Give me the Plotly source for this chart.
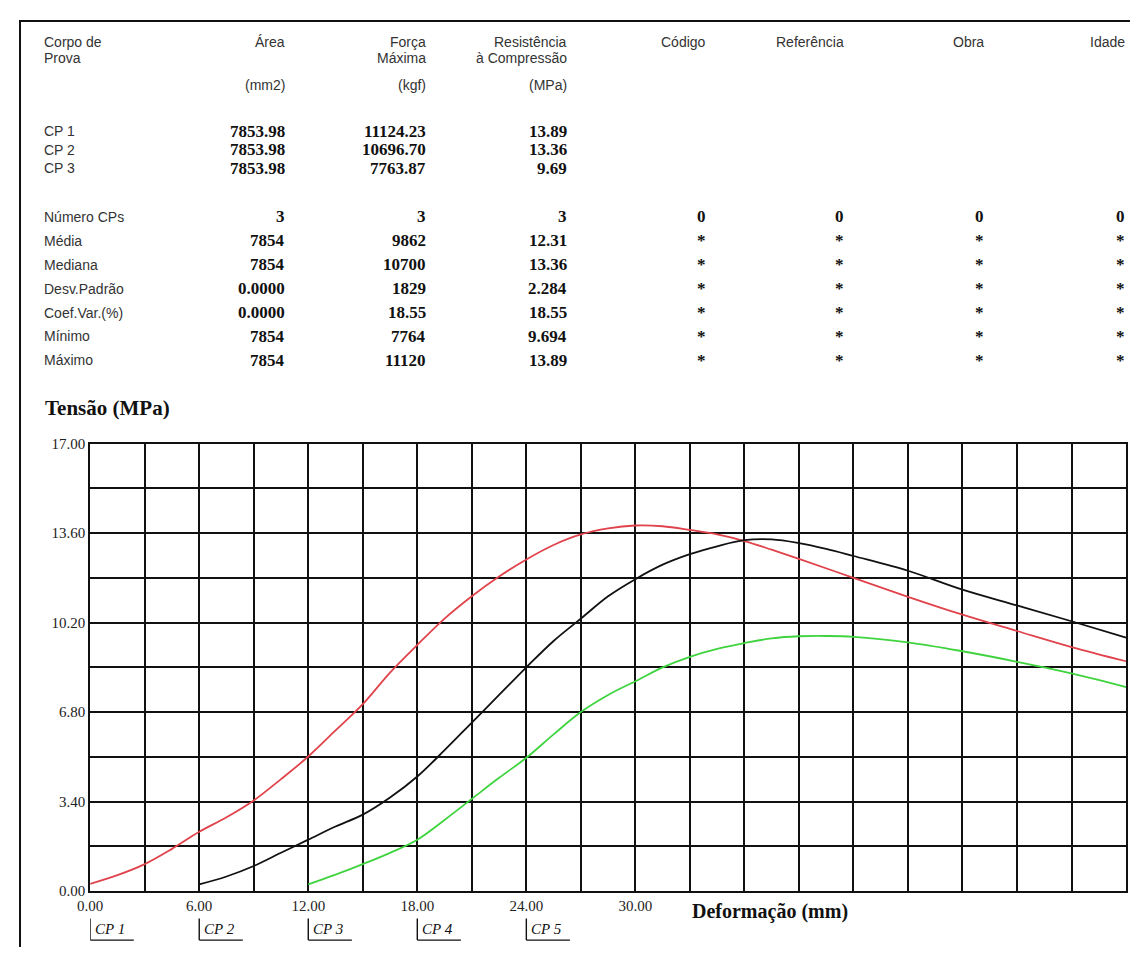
import plotly.graph_objects as go

# page is shown with an 8px body margin, so the figure is drawn 16px smaller
W, H = 1122, 947
OFF = 8

# ---------------- data ----------------
cp_names = ["CP 1", "CP 2", "CP 3"]
area_mm2 = ["7853.98", "7853.98", "7853.98"]
forca_kgf = ["11124.23", "10696.70", "7763.87"]
resist_mpa = ["13.89", "13.36", "9.69"]

stat_names = ["Número CPs", "Média", "Mediana", "Desv.Padrão", "Coef.Var.(%)", "Mínimo", "Máximo"]
stat_area = ["3", "7854", "7854", "0.0000", "0.0000", "7854", "7854"]
stat_forca = ["3", "9862", "10700", "1829", "18.55", "7764", "11120"]
stat_resist = ["3", "12.31", "13.36", "2.284", "18.55", "9.694", "13.89"]
stat_codigo = ["0", "*", "*", "*", "*", "*", "*"]
stat_referencia = ["0", "*", "*", "*", "*", "*", "*"]
stat_obra = ["0", "*", "*", "*", "*", "*", "*"]
stat_idade = ["0", "*", "*", "*", "*", "*", "*"]

# stress-deformation curves (x = deformation on chart axis, mm ; y = MPa)
cp1_x = [0, 1.5, 3, 4.5, 6, 7.5, 9, 10.5, 12, 13.5, 15, 16.5, 18, 19.5, 21, 22.5, 24, 25.5, 27,
         28.5, 30, 31.5, 33, 34.5, 36, 37.5, 39, 42, 45, 48, 51, 54, 57]
cp1_y = [0.27, 0.6, 1.02, 1.6, 2.25, 2.8, 3.44, 4.25, 5.11, 6.1, 7.1, 8.3, 9.35, 10.35, 11.2, 11.95, 12.6, 13.15, 13.55,
         13.78, 13.89, 13.86, 13.72, 13.55, 13.3, 12.97, 12.62, 11.9, 11.18, 10.5, 9.88, 9.27, 8.73]

cp2_x = [6, 7.5, 9, 10.5, 12, 13.5, 15, 16.5, 18, 19.5, 21, 22.5, 24, 25.5, 27, 28.5, 30, 31.5, 33,
         34.5, 36, 37.5, 39, 40.5, 42, 45, 48, 51, 54, 57]
cp2_y = [0.25, 0.55, 0.95, 1.45, 1.95, 2.45, 2.9, 3.55, 4.35, 5.35, 6.4, 7.45, 8.5, 9.5, 10.35, 11.2, 11.85, 12.4, 12.8,
         13.1, 13.33, 13.36, 13.22, 13.0, 12.73, 12.17, 11.45, 10.85, 10.25, 9.63]

cp3_x = [12, 13.5, 15, 16.5, 18, 19.5, 21, 22.5, 24, 25.5, 27, 28.5, 30, 31.5, 33, 34.5, 36, 37.5,
         39, 40.5, 42, 45, 48, 51, 54, 57]
cp3_y = [0.25, 0.62, 1.02, 1.45, 1.95, 2.7, 3.5, 4.3, 5.06, 5.95, 6.8, 7.45, 7.97, 8.5, 8.9, 9.2, 9.42, 9.6,
         9.68, 9.69, 9.66, 9.45, 9.11, 8.71, 8.27, 7.75]

x_ticks = [0, 6, 12, 18, 24, 30]
y_ticks = [0, 3.4, 6.8, 10.2, 13.6, 17.0]
cp_offsets = [0, 6, 12, 18, 24]
cp_offset_labels = ["CP 1", "CP 2", "CP 3", "CP 4", "CP 5"]

# ---------------- layout helpers (page pixel -> paper) ----------------
def px(x):
    return (x - OFF) / W

def py(y):
    return 1 - (y - OFF) / H

PLOT_L, PLOT_R, PLOT_T, PLOT_B = 78, 1126, 443, 898

SANS = "Liberation Sans, Arial, sans-serif"
SERIF = "Liberation Serif, Times New Roman, serif"

fig = go.Figure()

series = [
    (cp1_x, cp1_y, "#e0434b", "CP 1"),
    (cp2_x, cp2_y, "#111111", "CP 2"),
    (cp3_x, cp3_y, "#3fd43f", "CP 3"),
]
for xs, ys, col, name in series:
    fig.add_trace(go.Scatter(x=xs, y=ys, mode="lines", name=name,
                             line=dict(color=col, width=1.8, shape="spline", smoothing=1.0),
                             hoverinfo="x+y"))

annotations = []

def txt(x, y, s, anchor="left", font=SANS, size=14, color="#333", bold=False, italic=False):
    t = s
    if bold:
        t = "<b>" + t + "</b>"
    if italic:
        t = "<i>" + t + "</i>"
    annotations.append(dict(x=px(x), y=py(y), xref="paper", yref="paper", text=t,
                            showarrow=False, xanchor=anchor, yanchor="middle",
                            font=dict(family=font, size=size, color=color)))

# header
COL_LABEL = 29
COL_AREA, COL_FORCA, COL_RES = 277, 420, 562
COL_COD, COL_REF, COL_OBRA, COL_IDADE = 703, 843, 984, 1127

txt(COL_LABEL, 34, "Corpo de")
txt(COL_LABEL, 51, "Prova")
txt(COL_AREA, 34, "Área", "right")
txt(COL_AREA, 78, "(mm2)", "right")
txt(COL_FORCA, 34, "Força", "right")
txt(COL_FORCA, 51, "Máxima", "right")
txt(COL_FORCA, 78, "(kgf)", "right")
txt(COL_RES, 34, "Resistência", "right")
txt(COL_RES, 51, "à Compressão", "right")
txt(COL_RES, 78, "(MPa)", "right")
txt(COL_COD, 34, "Código", "right")
txt(COL_REF, 34, "Referência", "right")
txt(COL_OBRA, 34, "Obra", "right")
txt(COL_IDADE, 34, "Idade", "right")

VAL = dict(font=SERIF, size=17, color="#111", bold=True)
cp_rows_y = [125, 144, 163]
for i, yy in enumerate(cp_rows_y):
    txt(COL_LABEL, yy, cp_names[i])
    txt(COL_AREA, yy, area_mm2[i], "right", **VAL)
    txt(COL_FORCA, yy, forca_kgf[i], "right", **VAL)
    txt(COL_RES, yy, resist_mpa[i], "right", **VAL)

stat_y0, stat_dy = 212, 24.4
for i, name in enumerate(stat_names):
    yy = stat_y0 + i * stat_dy
    txt(COL_LABEL, yy, name)
    txt(COL_AREA, yy, stat_area[i], "right", **VAL)
    txt(COL_FORCA, yy, stat_forca[i], "right", **VAL)
    txt(COL_RES, yy, stat_resist[i], "right", **VAL)
    txt(COL_COD, yy, stat_codigo[i], "right", **VAL)
    txt(COL_REF, yy, stat_referencia[i], "right", **VAL)
    txt(COL_OBRA, yy, stat_obra[i], "right", **VAL)
    txt(COL_IDADE, yy, stat_idade[i], "right", **VAL)

# chart titles
txt(30, 407, "Tensão (MPa)", font=SERIF, size=21, color="#111", bold=True)
txt(685, 919, "Deformação (mm)", font=SERIF, size=20, color="#111", bold=True)

# CP offset labels under the x axis
shapes = []
CP_Y = 937
for off, lab in zip(cp_offsets, cp_offset_labels):
    annotations.append(dict(x=off, y=py(CP_Y), xref="x", yref="paper",
                            text="<i>" + lab + "</i>", showarrow=False,
                            xanchor="left", yanchor="middle", xshift=3,
                            font=dict(family=SERIF, size=15, color="#111")))
    shapes.append(dict(type="line", xref="x", yref="paper", x0=off, x1=off,
                       y0=py(926), y1=py(948), line=dict(color="#111", width=1.4)))
    shapes.append(dict(type="line", xref="x", yref="paper", x0=off, x1=off + 2.4,
                       y0=py(948), y1=py(948), line=dict(color="#111", width=1.4)))

# page border (top + left)
shapes.append(dict(type="line", xref="paper", yref="paper", x0=px(6), x1=1,
                   y0=py(13), y1=py(13), line=dict(color="#111", width=2)))
shapes.append(dict(type="line", xref="paper", yref="paper", x0=px(7), x1=px(7),
                   y0=py(12), y1=0, line=dict(color="#111", width=2)))

fig.update_layout(
    width=W, height=H,
    margin=dict(l=0, r=0, t=0, b=0),
    paper_bgcolor="white", plot_bgcolor="white",
    showlegend=False,
    annotations=annotations,
    shapes=shapes,
    xaxis=dict(
        domain=[px(PLOT_L), px(PLOT_R)], range=[0, 57],
        tickmode="array", tickvals=x_ticks, ticktext=[f"{v:.2f}" for v in x_ticks],
        showgrid=True, gridcolor="#111", gridwidth=1.8,
        minor=dict(tickmode="linear", tick0=0, dtick=3, showgrid=True, gridcolor="#111", gridwidth=1.8),
        showline=True, linecolor="#111", linewidth=2, mirror=True,
        zeroline=False, ticks="",
        tickfont=dict(family=SERIF, size=15, color="#222"),
        fixedrange=True,
    ),
    yaxis=dict(
        domain=[py(PLOT_B), py(PLOT_T)], range=[0, 17],
        tickmode="array", tickvals=y_ticks, ticktext=[f"{v:.2f}" for v in y_ticks],
        showgrid=True, gridcolor="#111", gridwidth=1.8,
        minor=dict(tickmode="linear", tick0=0, dtick=1.7, showgrid=True, gridcolor="#111", gridwidth=1.8),
        showline=True, linecolor="#111", linewidth=2, mirror=True,
        zeroline=False, ticks="",
        tickfont=dict(family=SERIF, size=15, color="#222"),
        fixedrange=True,
    ),
)

fig.write_html("out.html")
